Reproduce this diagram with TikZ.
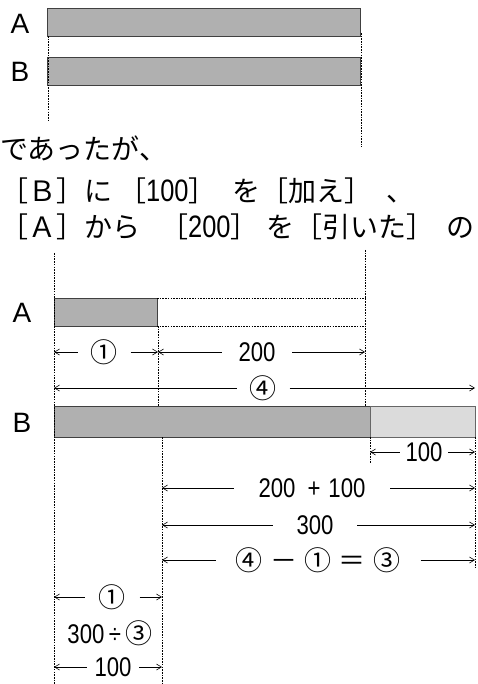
\documentclass[tikz,border=0pt]{standalone}
\usepackage{fontspec}
\newfontfamily\jpfont{Noto Sans CJK JP}
\newfontfamily\numfont[FakeStretch=0.82]{Liberation Sans}
\newfontfamily\labfont{Liberation Sans}
\newcommand\circn[1]{{\jpfont #1}}
\newcommand\tnum[1]{{\numfont\fontsize{31}{31}\selectfont #1}}
\usetikzlibrary{arrows.meta}
\begin{document}
\begin{tikzpicture}[x=1pt,y=-1pt,
  dark/.style={fill=gray!62, draw=black!75, line width=0.6pt},
  light/.style={fill=gray!28, draw=black!60, line width=0.6pt},
  guide/.style={line width=0.7pt, dash pattern=on 1.6pt off 1.1pt},
  dim/.style={line width=0.6pt, -{Straight Barb[length=5pt,width=6pt]}},
  lbl/.style={font=\labfont\fontsize{28}{28}\selectfont, inner sep=0pt},
  val/.style={font=\numfont\fontsize{27}{27}\selectfont, inner sep=0pt},
  jtext/.style={font=\jpfont\fontsize{28}{28}\selectfont, inner sep=0pt, anchor=west}]
\useasboundingbox (0,0) rectangle (478,684);

% ---- top: original bars
\node[lbl] (tA) at (20,24) {A};
\node[lbl] (tB) at (20,72) {B};
\draw[dark] (47,8) rectangle (360,36);
\draw[dark] (47,57) rectangle (360,85);
\draw[guide] (48,36) -- (48,120);
\draw[guide] (361,33) -- (361,147);

% ---- text
\node[jtext] (t1) at (0,148) {であったが、};
\node[jtext] (t2) at (0,191) {［Ｂ］に\hspace{6pt}［\tnum{100}］\hspace{16pt}を［加え］\hspace{14pt}、};
\node[jtext] (t3) at (0,227) {［Ａ］から\hspace{20pt}［\tnum{200}］\hspace{8pt}を［引いた］\hspace{12pt}の};

% ---- guide x positions
\coordinate (L) at (54,0);
\coordinate (M) at (158,0);
\coordinate (M2) at (162,0);
\coordinate (R) at (365,0);
\coordinate (R2) at (370,0);
\coordinate (E) at (475,0);

% ---- lower bars
\node[lbl] (bA) at (22,313) {A};
\node[lbl] (bB) at (22,423) {B};
\draw[dark] (54,298) rectangle (157,326);
\draw[guide] (157,298) -- (365,298);
\draw[guide] (157,326) -- (365,326);
\draw[dark] (54,406) rectangle (370,437);
\draw[light] (370,406) rectangle (475,437);

% guide lines
\draw[guide] (54,253) -- (54,684);
\draw[guide] (365,250) -- (365,406);
\draw[guide] (158,326) -- (158,406);
\draw[guide] (162,437) -- (162,684);
\draw[guide] (370,437) -- (370,463);
\draw[guide] (475,437) -- (475,567);

% ---- dimension rows
\node[val, outer xsep=13pt] (r1a) at (104,352) {\circn{①}};
\draw[dim] (r1a.west) -- (r1a.west -| L);
\draw[dim] (r1a.east) -- (r1a.east -| M);
\node[val, outer xsep=17pt] (r1b) at (257,352) {200};
\draw[dim] (r1b.west) -- (r1b.west -| M);
\draw[dim] (r1b.east) -- (r1b.east -| R);

\node[val, outer xsep=13pt] (r2) at (263,388) {\circn{④}};
\draw[dim] (r2.west) -- (r2.west -| L);
\draw[dim] (r2.east) -- (r2.east -| E);

\node[val, outer xsep=6pt] (r3) at (424,452) {100};
\draw[dim] (r3.west) -- (r3.west -| R2);
\draw[dim] (r3.east) -- (r3.east -| E);

\node[val, outer xsep=25pt] (r4) at (312,488) {200\hspace{12pt}+\hspace{8pt}100};
\draw[dim] (r4.west) -- (r4.west -| M2);
\draw[dim] (r4.east) -- (r4.east -| E);

\node[val, outer xsep=24pt] (r5) at (315,525) {300};
\draw[dim] (r5.west) -- (r5.west -| M2);
\draw[dim] (r5.east) -- (r5.east -| E);

\node[val, outer xsep=20pt] (r6) at (318,560) {\circn{④}\hspace{8pt}\circn{－}\hspace{7pt}\circn{①}\hspace{7pt}\circn{＝}\hspace{8pt}\circn{③}};
\draw[dim] (r6.west) -- (r6.west -| M2);
\draw[dim] (r6.east) -- (r6.east -| E);

\node[val, outer xsep=14pt] (r7) at (112,597) {\circn{①}};
\draw[dim] (r7.west) -- (r7.west -| L);
\draw[dim] (r7.east) -- (r7.east -| M2);

\node[val] (r8) at (110,633) {300\,÷\,\circn{③}};

\node[val, outer xsep=8pt] (r9) at (113,667) {100};
\draw[dim] (r9.west) -- (r9.west -| L);
\draw[dim] (r9.east) -- (r9.east -| M2);
\end{tikzpicture}
\end{document}
